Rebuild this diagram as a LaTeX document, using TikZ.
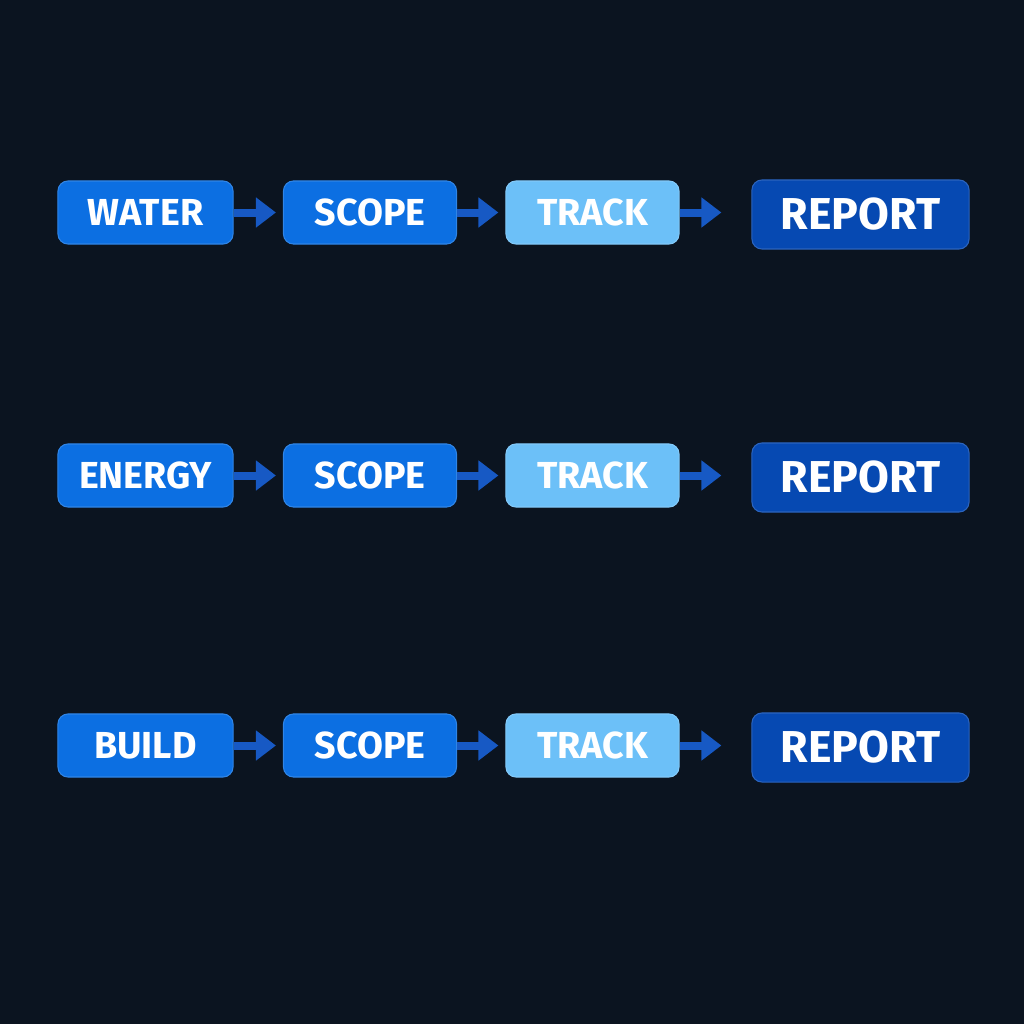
\documentclass[tikz,border=0pt]{standalone}
\usepackage{fontspec}
\setmainfont{Fira Sans}
\usetikzlibrary{arrows.meta}

\definecolor{bgdark}{HTML}{0B1420}
\definecolor{stepblue}{HTML}{0C6FE2}
\definecolor{steplight}{HTML}{6CC0F8}
\definecolor{stepdeep}{HTML}{0649B2}
\definecolor{arrowblue}{HTML}{1759C4}

\tikzset{
  stage/.style={rounded corners=1mm, draw=#1!85!white, line width=0.3pt, fill=#1,
    text=white, font=\fontsize{10.7}{12}\selectfont\bfseries,
    minimum width=1.73cm, minimum height=0.63cm, inner sep=0pt},
  report/.style={stage=stepdeep, minimum width=2.17cm, minimum height=0.69cm,
    font=\fontsize{12.7}{14}\selectfont\bfseries},
  flow/.style={draw=arrowblue, line width=0.8mm,
    -{Triangle[length=2mm,width=2.9mm]}, shorten >=#1},
  flow/.default=0.7mm
}

\begin{document}
\begin{tikzpicture}[x=0.01cm,y=-0.01cm]
  \fill[bgdark] (0,0) rectangle (1024,1024);
  \useasboundingbox (0,0) rectangle (1024,1024);
  %% ========================================================
  \foreach \row/\topic/\ypos in {a/WATER/212.5, b/ENERGY/475.5, c/BUILD/745.5} {
    \node[stage=stepblue, minimum width=1.75cm] (\row1) at (145.5,\ypos) {\topic};
    \node[stage=stepblue] (\row2) at (370,\ypos) {SCOPE};
    \node[stage=steplight] (\row3) at (592.5,\ypos) {TRACK};
    \node[report] (\row4) at (860.5,\ypos+2) {REPORT};

    \draw[flow] (\row1.east) -- (\row1.east -| \row2.west);
    \draw[flow] (\row2.east) -- (\row2.east -| \row3.west);
    \draw[flow=3mm] (\row3.east) -- (\row3.east -| \row4.west);
  }
  %% ========================================================
\end{tikzpicture}
\end{document}
